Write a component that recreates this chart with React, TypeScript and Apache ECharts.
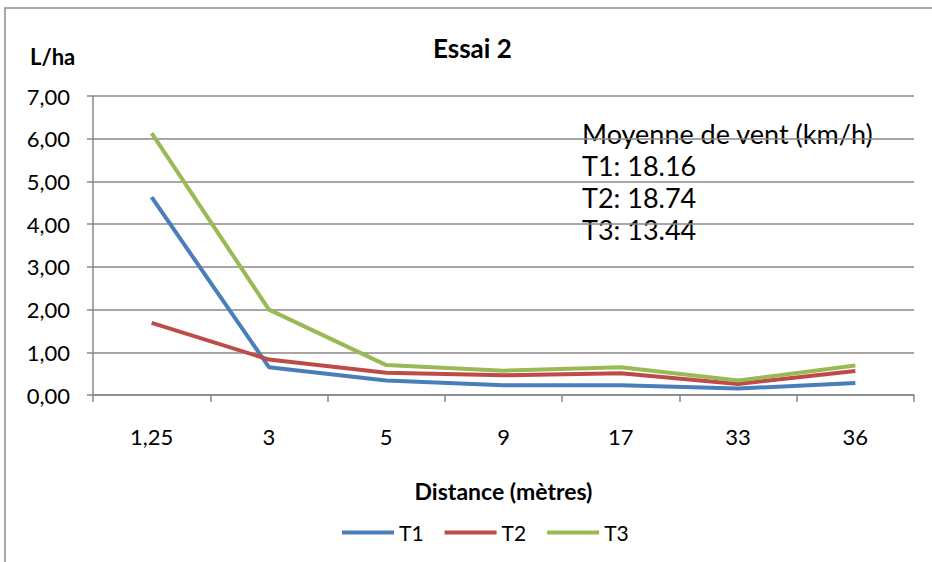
import React, { useEffect, useRef } from "react";
import * as echarts from "echarts";

const categories = ["1,25", "3", "5", "9", "17", "33", "36"];
const t1 = [4.63, 0.65, 0.34, 0.23, 0.23, 0.15, 0.28];
const t2 = [1.69, 0.83, 0.52, 0.46, 0.51, 0.26, 0.56];
const t3 = [6.13, 2.0, 0.7, 0.57, 0.65, 0.34, 0.69];
const windLines = ["Moyenne de vent (km/h)", "T1: 18.16", "T2: 18.74", "T3: 13.44"];

const FONT = "Lato, 'Open Sans', sans-serif";

export default function App() {
  const ref = useRef<HTMLDivElement>(null);
  useEffect(() => {
    document.body.style.margin = "0";
    if (!ref.current) return;
    const chart = echarts.init(ref.current, undefined, { renderer: "svg" });
    const mk = (name: string, data: number[], color: string) => ({
      name,
      type: "line",
      data,
      symbol: "none",
      lineStyle: { color, width: 4 },
      itemStyle: { color },
    });
    chart.setOption({
      animation: false,
      backgroundColor: "#ffffff",
      textStyle: { fontFamily: FONT },
      grid: { left: 93, right: 18, top: 96, bottom: 167 },
      graphic: [
        {
          type: "rect",
          shape: { x: 5, y: 8, width: 960, height: 600 },
          style: { fill: "none", stroke: "#8c8c8c", lineWidth: 1.5 },
          silent: true,
        },
        {
          type: "text",
          left: 433,
          top: 35,
          style: { text: "Essai 2", font: `bold 26px ${FONT}`, fill: "#000" },
        },
        {
          type: "text",
          left: 30,
          top: 45,
          style: { text: "L/ha", font: `bold 22px ${FONT}`, fill: "#000" },
        },
        {
          type: "text",
          left: 582,
          top: 117,
          style: {
            text: windLines.join("\n"),
            font: `27px ${FONT}`,
            lineHeight: 32,
            fill: "#000",
          },
        },
      ],
      legend: {
        left: 337,
        top: 517,
        itemWidth: 52,
        itemHeight: 4,
        itemGap: 21,
        icon: "rect",
        textStyle: { fontSize: 21, color: "#000", fontFamily: FONT },
        data: ["T1", "T2", "T3"],
      },
      xAxis: {
        type: "category",
        data: categories,
        boundaryGap: true,
        name: "Distance (mètres)",
        nameLocation: "middle",
        nameGap: 84,
        nameTextStyle: { fontSize: 23, fontWeight: "bold", color: "#000", fontFamily: FONT },
        axisLine: { lineStyle: { color: "#888", width: 1.5 } },
        axisTick: { show: true, length: 7, lineStyle: { color: "#888", width: 1.5 } },
        axisLabel: { fontSize: 22, color: "#000", margin: 30, fontFamily: FONT },
      },
      yAxis: {
        type: "value",
        min: 0,
        max: 7,
        interval: 1,
        axisLine: { show: true, lineStyle: { color: "#888", width: 1.5 } },
        axisTick: { show: true, length: 6, lineStyle: { color: "#888", width: 1.5 } },
        splitLine: { lineStyle: { color: "#888", width: 1.5 } },
        axisLabel: {
          fontSize: 22,
          color: "#000",
          margin: 23,
          fontFamily: FONT,
          formatter: (v: number) => v.toFixed(2).replace(".", ","),
        },
      },
      series: [
        mk("T1", t1, "#4A7EBB"),
        mk("T2", t2, "#BE4B48"),
        mk("T3", t3, "#98B954"),
      ],
    });
    return () => chart.dispose();
  }, []);
  return <div ref={ref} style={{ width: 932, height: 562 }} />;
}
